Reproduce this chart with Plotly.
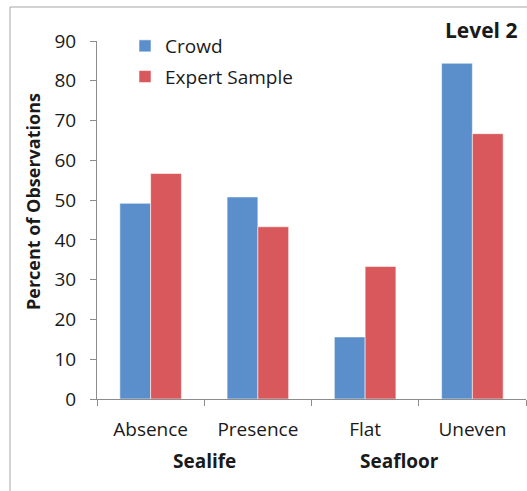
import plotly.graph_objects as go

categories = ["Absence", "Presence", "Flat", "Uneven"]
crowd = [49.2, 50.8, 15.6, 84.4]
expert = [56.7, 43.3, 33.3, 66.7]
y_ticks = [0, 10, 20, 30, 40, 50, 60, 70, 80, 90]
groups = ["Sealife", "Seafloor"]
group_pos = [0.5, 2.32]

W, H = 527, 491
ML, MR, MT, MB = 97, 1, 41, 92
PW, PH = W - ML - MR, H - MT - MB


def px(x):
    return (x - ML) / PW


def py(y):
    return (H - MB - y) / PH


FONT = "Open Sans"
TXT = "#1a1a1a"
AX = "#8c8c8c"

fig = go.Figure()
fig.add_trace(go.Bar(x=categories, y=crowd, name="Crowd", legendgroup="a",
                     marker=dict(color="#5B8FCB", line=dict(color="rgba(255,255,255,0.55)", width=1))))
fig.add_trace(go.Bar(x=categories, y=expert, name="Expert Sample", legendgroup="b",
                     marker=dict(color="#D9585B", line=dict(color="rgba(255,255,255,0.55)", width=1))))

annotations = [
    dict(text="<b>%s</b>" % g, x=p, xref="x", y=py(461), yref="paper",
         showarrow=False, font=dict(family=FONT, size=19, color=TXT),
         xanchor="center", yanchor="middle")
    for g, p in zip(groups, group_pos)
]
annotations.append(dict(text="<b>Percent of Observations</b>", textangle=-90,
                        x=px(33), y=py(202), xref="paper", yref="paper",
                        showarrow=False, font=dict(family=FONT, size=18, color=TXT),
                        xanchor="center", yanchor="middle"))
annotations.append(dict(text="<b>Level 2</b>", x=px(481), y=py(30),
                        xref="paper", yref="paper", showarrow=False,
                        font=dict(family=FONT, size=21, color=TXT),
                        xanchor="center", yanchor="middle"))

fig.update_layout(
    width=W, height=H,
    margin=dict(l=ML, r=MR, t=MT, b=MB, pad=0),
    paper_bgcolor="white", plot_bgcolor="white",
    barmode="group", bargap=0.426, bargroupgap=0,
    font=dict(family=FONT, size=19, color=TXT),
    showlegend=True,
    legend=dict(x=px(125), y=py(27), xanchor="left", yanchor="top",
                bgcolor="rgba(0,0,0,0)", tracegroupgap=3,
                font=dict(family=FONT, size=19, color=TXT),
                traceorder="grouped"),
    annotations=annotations,
    shapes=[dict(type="rect", xref="paper", yref="paper",
                 x0=px(10), x1=px(540), y0=py(520), y1=py(7),
                 line=dict(color="#a6a6a6", width=1), layer="below")],
    xaxis=dict(showline=True, linecolor=AX, linewidth=1, ticks="outside",
               tickson="boundaries", ticklen=6, tickcolor=AX,
               showgrid=False, zeroline=False, ticklabelstandoff=13,
               tickfont=dict(family=FONT, size=19, color=TXT)),
    yaxis=dict(range=[0, 90], tickvals=y_ticks, showline=True, linecolor=AX,
               linewidth=1, ticks="outside", ticklen=6, tickcolor=AX,
               showgrid=False, zeroline=False, ticklabelstandoff=10,
               tickfont=dict(family=FONT, size=19, color=TXT)),
)

fig.write_html("out.html")
